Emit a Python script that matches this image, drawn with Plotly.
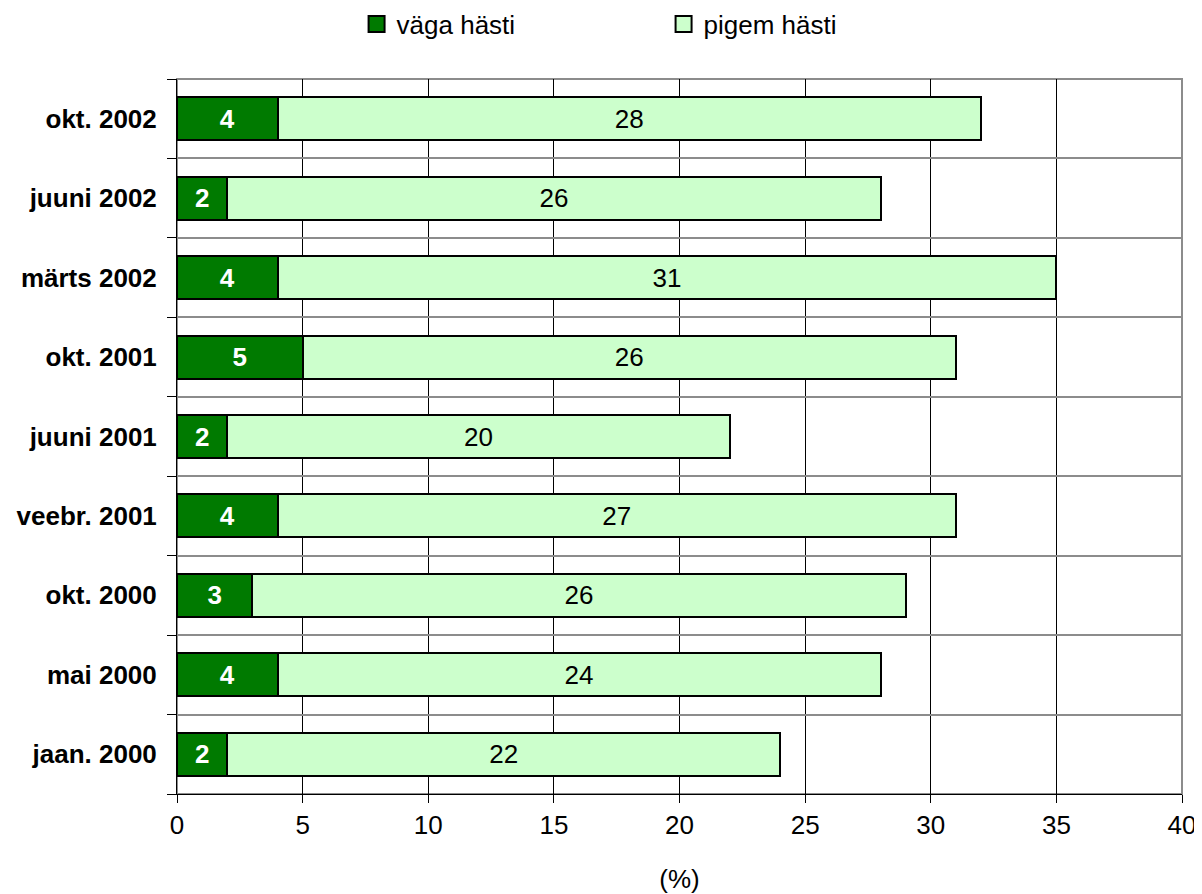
import plotly.graph_objects as go

# survey waves, bottom to top
periods = ["jaan. 2000", "mai 2000", "okt. 2000", "veebr. 2001", "juuni 2001",
           "okt. 2001", "märts 2002", "juuni 2002", "okt. 2002"]
vaga_hasti = [2, 4, 3, 4, 2, 5, 4, 2, 4]
pigem_hasti = [22, 24, 26, 27, 20, 26, 31, 26, 28]

FONT = "Liberation Sans, Arial, sans-serif"
FS = 26
DARK = "#007A00"
LIGHT = "#CCFFCC"

fig = go.Figure()
fig.add_trace(go.Bar(
    y=periods, x=vaga_hasti, orientation="h", name="väga hästi", showlegend=False,
    marker=dict(color=DARK, line=dict(color="black", width=2)),
    text=vaga_hasti, textposition="inside", insidetextanchor="middle", textangle=0,
    textfont=dict(color="white", size=FS, family=FONT, weight="bold"),
    constraintext="none",
))
fig.add_trace(go.Bar(
    y=periods, x=pigem_hasti, orientation="h", name="pigem hästi", showlegend=False,
    marker=dict(color=LIGHT, line=dict(color="black", width=2)),
    text=pigem_hasti, textposition="inside", insidetextanchor="middle", textangle=0,
    textfont=dict(color="black", size=FS, family=FONT),
    constraintext="none",
))
# legend-only entries so the swatches come out bigger than plotly's bar swatch
for name, col in [("väga hästi", DARK), ("pigem hästi", LIGHT)]:
    fig.add_trace(go.Scatter(
        x=[None], y=[None], mode="markers", name=name,
        marker=dict(symbol="square", size=17, color=col, line=dict(color="black", width=2)),
    ))

# the page body adds an 8px offset, margins compensate for it
fig.update_layout(
    barmode="stack", bargap=0.46,
    width=1202, height=894,
    margin=dict(l=169, r=28, t=71, b=108),
    plot_bgcolor="white", paper_bgcolor="white",
    font=dict(family=FONT, size=FS, color="black"),
    legend=dict(orientation="h", traceorder="normal",
                xref="container", yref="container",
                x=0.29, xanchor="left", y=0.982, yanchor="middle",
                entrywidth=262, font=dict(size=FS), itemclick=False, itemwidth=30),
    shapes=[dict(type="rect", xref="paper", yref="paper", x0=0, x1=1, y0=0, y1=1,
                 line=dict(color="#8c8c8c", width=2), layer="below")],
)
fig.update_xaxes(
    range=[0, 40], dtick=5, tick0=0,
    showgrid=True, gridcolor="black", gridwidth=1,
    showline=True, linecolor="black", linewidth=1,
    ticks="outside", ticklen=8, tickcolor="black",
    tickfont=dict(size=FS),
    title=dict(text="(%)", standoff=30, font=dict(size=FS)),
    zeroline=False, automargin=False,
)
fig.update_yaxes(
    type="category", tickson="boundaries",
    showgrid=True, gridcolor="#8c8c8c", gridwidth=2,
    showline=True, linecolor="black", linewidth=1,
    ticks="outside", ticklen=9, tickcolor="black",
    tickfont=dict(size=FS, weight="bold"),
    ticklabelstandoff=14, automargin=False,
)

fig.write_html("out.html")
